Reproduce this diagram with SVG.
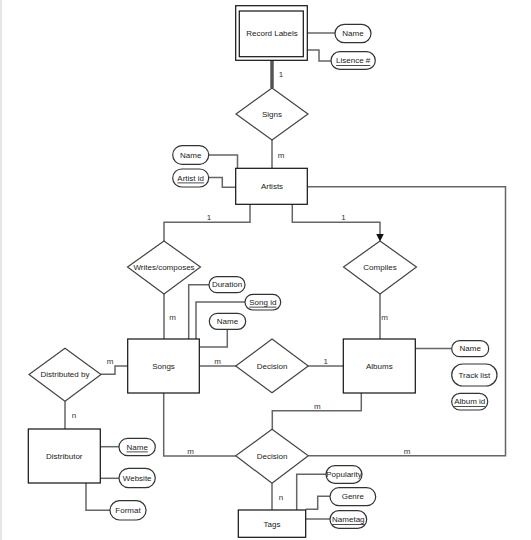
<svg xmlns="http://www.w3.org/2000/svg" width="531" height="540" viewBox="0 0 531 540">
<style>
text{font-family:"Liberation Sans",Arial,sans-serif;font-size:8px;fill:#222;text-anchor:middle;dominant-baseline:central}
.ent{fill:#fff;stroke:#111;stroke-width:1.2}
.rel{fill:#fff;stroke:#444;stroke-width:1.2}
.att{fill:#fff;stroke:#333;stroke-width:1.2}
.c{fill:none;stroke:#666;stroke-width:1.5}
.u{text-decoration:underline}
.lbl{fill:#333}
</style>
<defs>
<marker id="arr" markerWidth="8" markerHeight="8" refX="7" refY="4" orient="auto" markerUnits="userSpaceOnUse">
<path d="M0,0 L8,4 L0,8 Z" fill="#111"/>
</marker>
</defs>
<rect x="0" y="0" width="531" height="540" fill="#fff"/>
<rect x="0" y="0" width="2" height="540" fill="#e6e6e6"/>

<g id="connectors">
<path class="c" d="M272,60 V88" stroke-width="3.5" style="stroke:#555;stroke-width:3.5"/>
<path class="c" d="M307,33 H335"/>
<path class="c" d="M307,50 H319 V61 H331"/>
<path class="c" d="M272,140 V168"/>
<path class="c" d="M208.7,155 H237.5 V168"/>
<path class="c" d="M208.7,177.5 H222.3 V187.3 H236"/>
<path class="c" d="M307,186.7 H505.5 V455.7 H308.3"/>
<path class="c" d="M250,204 V222.3 H164 V241"/>
<path class="c" d="M292.3,204 V222.3 H380 V240.5" marker-end="url(#arr)"/>
<path class="c" d="M164,294 V339"/>
<path class="c" d="M380,294 V339"/>
<path class="c" d="M209,284.7 H188.7 V339"/>
<path class="c" d="M245,302 H196 V339"/>
<path class="c" d="M227.3,329.3 V347 H199.3"/>
<path class="c" d="M101,374.3 H115 V366 H127.7"/>
<path class="c" d="M65,401.3 V429"/>
<path class="c" d="M199.3,366 H236"/>
<path class="c" d="M308.3,366 H343.3"/>
<path class="c" d="M415.3,348.5 H451.7"/>
<path class="c" d="M361.3,393 V410.7 H272.3 V429.3"/>
<path class="c" d="M163.7,393 V456 H236"/>
<path class="c" d="M100.3,446.7 H119"/>
<path class="c" d="M100.3,478.3 H119"/>
<path class="c" d="M86,483 V510.3 H110"/>
<path class="c" d="M272,483.3 V510"/>
<path class="c" d="M296.7,510 V474.3 H326"/>
<path class="c" d="M330,496.3 H317.7 V509.3 H305.7"/>
<path class="c" d="M305.7,519 H330"/>
<text class="lbl" x="281" y="74">1</text>
<text class="lbl" x="281" y="155">m</text>
<text class="lbl" x="209" y="217">1</text>
<text class="lbl" x="343.5" y="217">1</text>
<text class="lbl" x="172.5" y="317">m</text>
<text class="lbl" x="384.5" y="317">m</text>
<text class="lbl" x="110" y="361">m</text>
<text class="lbl" x="74" y="415">n</text>
<text class="lbl" x="217.7" y="361.5">m</text>
<text class="lbl" x="325.7" y="361.5">1</text>
<text class="lbl" x="317.3" y="406.5">m</text>
<text class="lbl" x="190.7" y="451.5">m</text>
<text class="lbl" x="407" y="451.5">m</text>
<text class="lbl" x="281" y="497">n</text>
</g>

<g id="record-labels">
<rect class="ent" x="235.7" y="5.7" width="71.6" height="54.6" stroke-width="1.5"/>
<rect class="ent" x="239.3" y="11" width="64" height="45.7"/>
<text x="272" y="33">Record Labels</text>
</g>
<g id="rl-name"><rect class="att" x="335" y="24.3" width="36" height="18.4" rx="9.2"/><text x="353" y="33.5">Name</text></g>
<g id="rl-lisence"><rect class="att" x="331" y="51.7" width="44.3" height="17.6" rx="8.8"/><text class="u" x="353.2" y="60.5">Lisence #</text></g>

<g id="signs"><polygon class="rel" points="272,88 308,114 272,140 236,114"/><text x="272" y="114">Signs</text></g>

<g id="artists"><rect class="ent" x="235.7" y="168.3" width="71.6" height="36"/><text x="272" y="186.3">Artists</text></g>
<g id="artist-name"><rect class="att" x="172.7" y="145.7" width="36" height="18.6" rx="9.3"/><text x="190.7" y="155">Name</text></g>
<g id="artist-id"><rect class="att" x="172.7" y="169" width="36" height="18" rx="9"/><text class="u" x="190.7" y="178">Artist id</text></g>

<g id="writes"><polygon class="rel" points="164,241 200.5,267 164,294 127.5,267"/><text x="164" y="267">Writes/composes</text></g>
<g id="compiles"><polygon class="rel" points="380,241 416.5,267 380,294 343.5,267"/><text x="380" y="267">Compiles</text></g>

<g id="songs"><rect class="ent" x="127.7" y="339" width="71.6" height="54"/><text x="163.5" y="366">Songs</text></g>
<g id="duration"><rect class="att" x="209" y="276.7" width="36" height="16" rx="8"/><text x="227" y="284.7">Duration</text></g>
<g id="song-id"><rect class="att" x="245" y="294.3" width="35.7" height="15.7" rx="7.8"/><text class="u" x="262.8" y="302.2">Song id</text></g>
<g id="song-name"><rect class="att" x="209.3" y="313.3" width="36.4" height="16" rx="8"/><text x="227.5" y="321.3">Name</text></g>

<g id="distributed-by"><polygon class="rel" points="65,348.3 101,374.5 65,401.3 29,374.5"/><text x="65" y="374.5">Distributed by</text></g>

<g id="decision-1"><polygon class="rel" points="272,339 308.3,366 272,392.7 235.7,366"/><text x="272" y="366">Decision</text></g>

<g id="albums"><rect class="ent" x="343.3" y="339" width="72" height="54"/><text x="379.3" y="366">Albums</text></g>
<g id="album-name"><rect class="att" x="451.7" y="340.7" width="37" height="16" rx="8"/><text x="470.2" y="348.7">Name</text></g>
<g id="track-list"><rect class="att" x="451.7" y="364" width="45.3" height="22" rx="11"/><text x="474.3" y="375">Track list</text></g>
<g id="album-id"><rect class="att" x="451.7" y="393.3" width="36" height="16.7" rx="8.3"/><text class="u" x="469.7" y="401.7">Album id</text></g>

<g id="distributor"><rect class="ent" x="28.3" y="429" width="72" height="54"/><text x="64.3" y="456">Distributor</text></g>
<g id="dist-name"><rect class="att" x="119" y="438.3" width="36.3" height="17.4" rx="8.7"/><text class="u" x="137.2" y="447">Name</text></g>
<g id="website"><rect class="att" x="119" y="468.3" width="36.3" height="19.4" rx="9.7"/><text x="137.2" y="478">Website</text></g>
<g id="format"><rect class="att" x="110" y="500.7" width="36" height="19.3" rx="9.6"/><text x="128" y="510.3">Format</text></g>

<g id="decision-2"><polygon class="rel" points="272,429.3 308.3,455.7 272,483.3 235.7,455.7"/><text x="272" y="456">Decision</text></g>

<g id="tags"><rect class="ent" x="238.3" y="510" width="67.4" height="27.3"/><text x="272" y="524">Tags</text></g>
<g id="popularity"><rect class="att" x="326" y="465.7" width="36" height="17.6" rx="8.8"/><text x="344" y="474.5">Popularity</text></g>
<g id="genre"><rect class="att" x="330" y="487.7" width="45.7" height="18" rx="9"/><text x="352.8" y="496.7">Genre</text></g>
<g id="nametag"><rect class="att" x="330" y="510.7" width="36.7" height="17.6" rx="8.8"/><text class="u" x="348.3" y="519.5">Nametag</text></g>
</svg>
